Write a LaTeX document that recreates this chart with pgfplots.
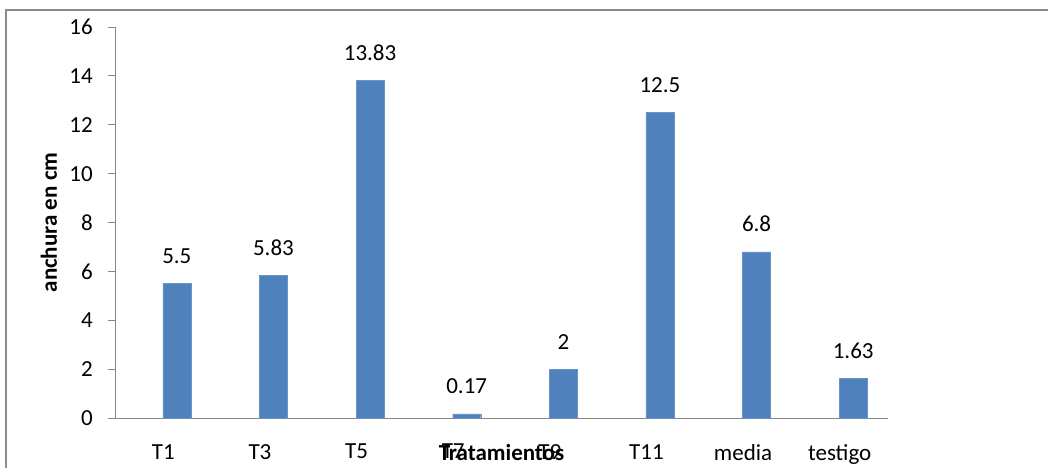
\documentclass[border=0pt]{standalone}
\usepackage{pgfplots}
\pgfplotsset{compat=1.18}
\usepackage{fontspec}
\setmainfont{Carlito}
\definecolor{barblue}{HTML}{4F81BD}
\definecolor{axisgray}{HTML}{868686}
\definecolor{framegray}{HTML}{8C8C8C}

\begin{document}
\fontsize{23}{27}\selectfont
\begin{tikzpicture}[x=1pt,y=1pt]
\useasboundingbox (0,0) rectangle (1048,-467);
% chart area border
\draw[framegray, line width=2.5pt] (6,-480) -- (6,-10) -- (1060,-10);
\begin{axis}[
  at={(115pt,-418pt)}, anchor=south west,
  scale only axis, width=773pt, height=391pt,
  xmin=-0.5, xmax=7.5, ymin=0, ymax=16,
  axis x line*=bottom, axis y line*=left,
  axis line style={axisgray, line width=1pt},
  /pgf/number format/assume math mode=true,
  ytick={0,2,...,16},
  xtick={0,...,7},
  xticklabels={T1,T3,T5,T7,T9,T11,media,testigo},
  ytick align=outside, xtick align=inside,
  major tick length=7pt,
  x tick style={draw=none},
  y tick style={axisgray, line width=1pt},
  yticklabel style={anchor=east, inner sep=0pt, xshift=-15pt},
  xticklabel style={anchor=north, inner sep=0pt, yshift=-19pt},
  ylabel={\bfseries anchura en cm},
  ylabel style={at={(axis description cs:-0.0854,0.5)}, anchor=center},
  xlabel={\bfseries Tratamientos},
  xlabel style={at={(axis description cs:0.5,0)}, anchor=center, yshift=-35pt},
  ybar, bar width=28pt,
  nodes near coords={\pgfmathprintnumber[fixed, precision=2]{\pgfplotspointmeta}},
  every node near coord/.append style={anchor=south, inner sep=0pt, yshift=19.5pt, text=black},
]
\addplot[fill=barblue, draw=barblue!85!white] coordinates {
  (0.14,5.5) (1.14,5.83) (2.14,13.83) (3.14,0.17)
  (4.14,2) (5.14,12.5) (6.14,6.8) (7.14,1.63)
};
\end{axis}
\end{tikzpicture}
\end{document}
